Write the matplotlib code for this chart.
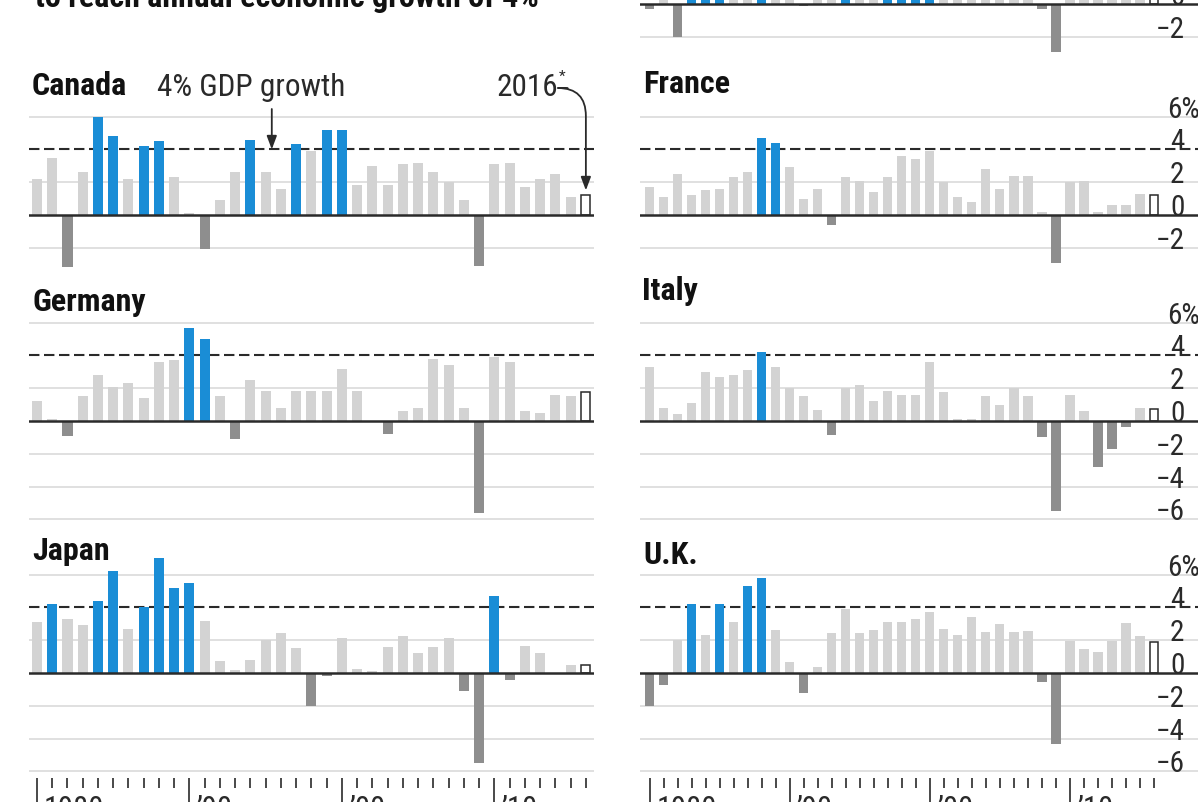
import matplotlib
matplotlib.use("Agg")
import matplotlib.pyplot as plt
from matplotlib import font_manager
from matplotlib.transforms import ScaledTranslation

# ---------------- data ----------------
years = list(range(1980, 2017))

us = [-0.3, 2.5, -2.0, 4.6, 7.3, 4.2, 3.5, 3.5, 4.2, 3.7,
      1.9, -0.1, 3.6, 2.7, 4.0, 2.7, 3.8, 4.5, 4.4, 4.7,
      4.1, 1.0, 1.8, 2.8, 3.8, 3.3, 2.7, 1.8, -0.3, -2.9,
      2.5, 1.6, 2.2, 1.7, 2.4, 2.6, 1.6]
canada = [2.2, 3.5, -3.2, 2.6, 6.0, 4.8, 2.2, 4.2, 4.5, 2.3,
          0.1, -2.1, 0.9, 2.6, 4.6, 2.6, 1.6, 4.3, 3.9, 5.2,
          5.2, 1.8, 3.0, 1.8, 3.1, 3.2, 2.6, 2.0, 0.9, -3.1,
          3.1, 3.2, 1.7, 2.2, 2.5, 1.1, 1.2]
france = [1.7, 1.1, 2.5, 1.2, 1.5, 1.6, 2.3, 2.6, 4.7, 4.4,
          2.9, 1.0, 1.6, -0.6, 2.3, 2.1, 1.4, 2.3, 3.6, 3.4,
          3.9, 2.0, 1.1, 0.8, 2.8, 1.6, 2.4, 2.4, 0.2, -2.9,
          2.0, 2.1, 0.2, 0.6, 0.6, 1.3, 1.2]
germany = [1.2, 0.1, -0.9, 1.5, 2.8, 2.1, 2.3, 1.4, 3.6, 3.7,
           5.7, 5.0, 1.5, -1.1, 2.5, 1.8, 0.8, 1.8, 1.8, 1.8,
           3.2, 1.8, 0.0, -0.8, 0.6, 0.8, 3.8, 3.4, 0.8, -5.6,
           3.9, 3.6, 0.6, 0.5, 1.6, 1.5, 1.75]
italy = [3.3, 0.8, 0.4, 1.1, 3.0, 2.7, 2.8, 3.1, 4.2, 3.3,
         2.0, 1.5, 0.7, -0.85, 2.0, 2.2, 1.2, 1.8, 1.6, 1.6,
         3.6, 1.75, 0.15, 0.1, 1.5, 0.95, 2.0, 1.5, -1.0, -5.5,
         1.6, 0.6, -2.8, -1.7, -0.35, 0.8, 0.75]
japan = [3.1, 4.2, 3.3, 2.9, 4.4, 6.2, 2.7, 4.0, 7.0, 5.2,
         5.5, 3.2, 0.75, 0.2, 0.8, 2.0, 2.45, 1.5, -2.0, -0.2,
         2.15, 0.25, 0.1, 1.6, 2.25, 1.2, 1.6, 2.15, -1.1, -5.5,
         4.7, -0.45, 1.65, 1.25, 0.0, 0.5, 0.5]
uk = [-2.0, -0.75, 2.0, 4.2, 2.3, 4.2, 3.1, 5.3, 5.8, 2.6,
      0.7, -1.2, 0.35, 2.45, 3.9, 2.45, 2.6, 3.1, 3.1, 3.3,
      3.7, 2.7, 2.3, 3.4, 2.5, 3.0, 2.5, 2.55, -0.55, -4.3,
      1.95, 1.45, 1.3, 1.95, 3.05, 2.25, 1.9]

target = 4.0
major_years = [1980, 1990, 2000, 2010]
major_labels = ["1980", "\u201990", "\u201900", "\u201910"]
title_text = "to reach annual economic growth of 4%"

six = [6, 4, 2, 0, -2]
twelve = [6, 4, 2, 0, -2, -4, -6]
us_visible_labels = [0, -2]

# ---------------- style ----------------
avail = {f.name for f in font_manager.fontManager.ttflist}
FONT = "DejaVu Sans"
for cand in ["Liberation Sans Narrow", "Roboto Condensed", "Open Sans Condensed",
             "Roboto", "Liberation Sans"]:
    if cand in avail:
        FONT = cand
        break
plt.rcParams["font.family"] = [FONT, "DejaVu Sans"]

BLUE = "#1a8dd6"
LIGHT = "#d3d3d3"
DARK = "#8e8e8e"
GRID = "#dadada"
INK = "#2a2a2a"

W, H = 1198, 803
K = 16.4  # px per percentage point
fig = plt.figure(figsize=(W / 100, H / 100), dpi=100)

LEFT = dict(x0=28.6, x1=593.5, xlim=(1979.45, 2016.5))
RIGHT = dict(x0=640.0, x1=1210.0, xlim=(1979.31, 2020.0))


def make_axes(col, zero_px, lo, hi):
    top_px = zero_px - hi * K
    bot_px = zero_px - lo * K
    ax = fig.add_axes([col["x0"] / W, 1 - bot_px / H,
                       (col["x1"] - col["x0"]) / W, (bot_px - top_px) / H])
    ax.set_xlim(*col["xlim"])
    ax.set_ylim(lo, hi)
    ax.patch.set_visible(False)
    for s in ax.spines.values():
        s.set_visible(False)
    ax.set_xticks([])
    ax.set_yticks([])
    return ax


def draw_panel(ax, vals, grid_vals):
    for g in grid_vals:
        if g not in (0, 4):
            ax.axhline(g, color=GRID, lw=1.2, zorder=1)
    ax.axhline(target, color=INK, lw=1.5, ls=(0, (5.0, 2.2)), zorder=2)
    cols = [BLUE if v >= target else (LIGHT if v >= 0 else DARK) for v in vals[:-1]]
    ax.bar(years[:-1], vals[:-1], width=0.66, color=cols, zorder=3)
    ax.bar(years[-1:], vals[-1:], width=0.6, facecolor="white",
           edgecolor=INK, lw=1.1, zorder=3)
    ax.axhline(0, color=INK, lw=1.8, zorder=4)


def value_labels(ax, grid_vals, top_val=6):
    xr = RIGHT["xlim"][0] + (1184 - RIGHT["x0"]) / 14.0
    for g in grid_vals:
        if g == top_val:
            xl = RIGHT["xlim"][0] + (1167 - RIGHT["x0"]) / 14.0
            ax.text(xl, g, f"{g}%", ha="left", va="baseline", fontsize=21,
                    color=INK, zorder=5, clip_on=False)
        else:
            lab = f"{g}".replace("-", "\u2212")
            ax.text(xr, g, lab, ha="right", va="baseline", fontsize=21,
                    color=INK, zorder=5, clip_on=False)


def year_axis(ax):
    ax.spines["bottom"].set_visible(False)
    ax.set_xticks(major_years)
    ax.set_xticklabels(major_labels)
    ax.set_xticks([y for y in years if y not in major_years], minor=True)
    ax.tick_params(axis="x", which="major", length=17.5, width=1.2, color=INK,
                   pad=-6.0, labelsize=22, labelcolor=INK, direction="out")
    ax.tick_params(axis="x", which="minor", length=7.5, width=1.2, color=INK,
                   direction="out")
    off = ScaledTranslation(5 / 72, 0, fig.dpi_scale_trans)
    for lab in ax.get_xticklabels():
        lab.set_ha("left")
        lab.set_va("top")
        lab.set_transform(lab.get_transform() + off)


def ptext(x, y, s, **kw):
    return fig.text(x / W, 1 - y / H, s, **kw)


# U.S. (mostly cropped at top)
ax_us = make_axes(RIGHT, 5, -3.6, 8.0)
draw_panel(ax_us, us, six)
value_labels(ax_us, us_visible_labels)

# Canada / France
ax_ca = make_axes(LEFT, 216, -3.6, 7.5)
draw_panel(ax_ca, canada, six)
ax_fr = make_axes(RIGHT, 216, -3.6, 7.5)
draw_panel(ax_fr, france, six)
value_labels(ax_fr, six)

# Germany / Italy
ax_de = make_axes(LEFT, 422, -6.3, 7.5)
draw_panel(ax_de, germany, twelve)
ax_it = make_axes(RIGHT, 422, -6.3, 7.5)
draw_panel(ax_it, italy, twelve)
value_labels(ax_it, twelve)

# Japan / U.K.
bot_lo = -(779 - 674) / K
ax_jp = make_axes(LEFT, 674, bot_lo, 7.8)
draw_panel(ax_jp, japan, twelve)
year_axis(ax_jp)
ax_uk = make_axes(RIGHT, 674, bot_lo, 7.8)
draw_panel(ax_uk, uk, twelve)
value_labels(ax_uk, twelve)
year_axis(ax_uk)

# titles
tkw = dict(fontsize=23, fontweight="bold", color="#111111", va="baseline", ha="left")
ptext(32, 95, "Canada", **tkw)
ptext(643, 93, "France", **tkw)
ptext(32, 311, "Germany", **tkw)
ptext(642, 300, "Italy", **tkw)
ptext(32, 560, "Japan", **tkw)
ptext(643, 564, "U.K.", **tkw)
ptext(35, 7, title_text, fontsize=23, fontweight="bold", color="#111111",
      va="baseline", ha="left")

# annotations
ptext(157, 96, "4% GDP growth", fontsize=22.5, color=INK, va="baseline", ha="left")
ax_ca.annotate("", xy=(1995.4, target), xytext=(1995.4, (216 - 110) / K),
               arrowprops=dict(arrowstyle="-|>,head_length=0.8,head_width=0.3",
                               color=INK, lw=1.3, shrinkA=0, shrinkB=0),
               annotation_clip=False, zorder=6)
t2016 = ptext(497, 96, "2016", fontsize=22.5, color=INK, va="baseline", ha="left")
ax_ca.annotate("*", xy=(1.0, 0.62), xycoords=t2016, fontsize=11, color=INK,
               ha="left", va="bottom", annotation_clip=False)
ax_ca.annotate("", xy=(2016, canada[-1] + 0.3),
               xytext=(1980 + (568 - 37.3) / 15.25, (216 - 89) / K),
               arrowprops=dict(arrowstyle="-|>,head_length=0.8,head_width=0.3",
                               color=INK, lw=1.3, shrinkA=0, shrinkB=0,
                               connectionstyle="angle,angleA=0,angleB=90,rad=28"),
               annotation_clip=False, zorder=6)

fig.savefig("out.png", dpi=100, facecolor="white")
